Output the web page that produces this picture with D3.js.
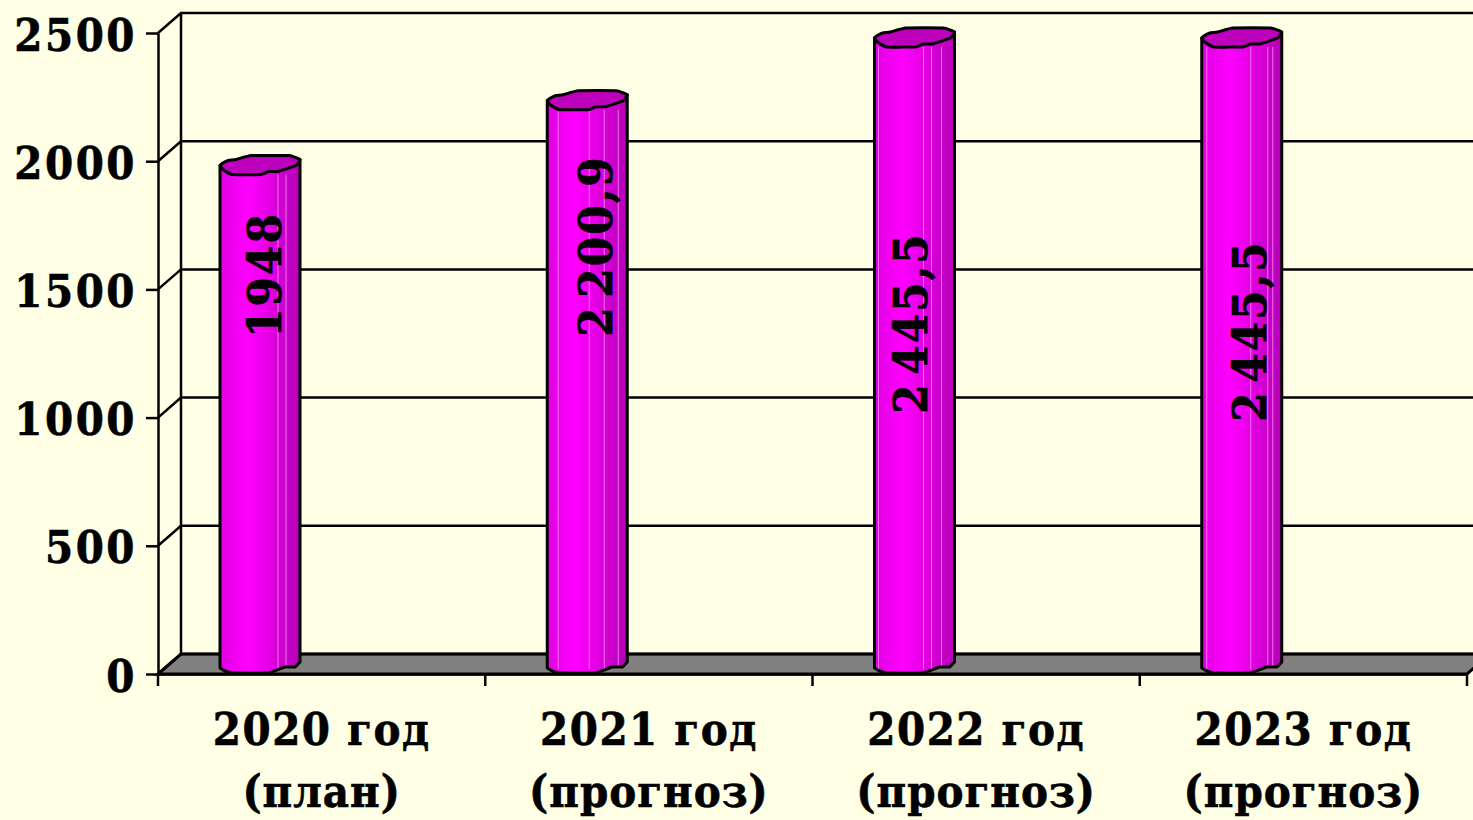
<!DOCTYPE html>
<html>
<head>
<meta charset="utf-8">
<script src="https://cdnjs.cloudflare.com/ajax/libs/d3/7.8.5/d3.min.js"></script>
<style>
body { margin: 0; background: #ffffe5; overflow: hidden; }
text { font-family: "DejaVu Serif Condensed", "DejaVu Serif", serif; font-weight: bold; fill: #000; stroke: #000; stroke-width: 0.6px; }
</style>
</head>
<body>
<script>
// Data //////////////////////////////////////////////
var years = ["2020 год", "2021 год", "2022 год", "2023 год"];
var notes = ["(план)", "(прогноз)", "(прогноз)", "(прогноз)"];
var values = [1948, 2200.9, 2445.5, 2445.5];
var valueLabels = ["1948", "2 200,9", "2 445,5", "2 445,5"];
var yTicks = [0, 500, 1000, 1500, 2000, 2500];

// Layout //////////////////////////////////////////////
var width = 1473, height = 820;
var left = 158, right = 1467, bottom = 674, top_ = 33;
var depthX = 23, depthY = -20;
var barOffset = 62;
var fontSize = 45;

// hand placed data labels, as in the original slide: dx from bar left, centre y
var labelPlace = [[45, 275], [48, 246], [36, 323], [48, 331]];

// lighter facet lines on each cylinder, dx from bar left
var facets = [[58, 66], [11, 42, 57, 71], [4, 49, 57, 67], [5, 49, 66, 71]];

// outline of the top and bottom of the cylinder, relative to bar left / value y
var topShape = [[0, -9], [3, -5], [12, 0], [41, 0], [49, -3], [58, -3], [76, -9], [80, -15],
	[69, -19], [31, -19], [16, -15], [8, -14], [2, -11]];
var baseShape = [[0, -6], [5, -3], [12, -1], [48, -1], [65, -7], [75, -7], [80, -12]];

var svg = d3.select("body").append("svg")
	.attr("width", width)
	.attr("height", height);

var xScale = d3.scaleBand().domain(years).range([left, right]);
var yScale = d3.scaleLinear().domain([0, 2500]).range([bottom, top_]);

// bar gradient
var grad = svg.append("defs").append("linearGradient").attr("id", "barFill");
grad.append("stop").attr("offset", "0%").attr("stop-color", "#e000e0");
grad.append("stop").attr("offset", "35%").attr("stop-color", "#ff00ff");
grad.append("stop").attr("offset", "60%").attr("stop-color", "#e600e6");
grad.append("stop").attr("offset", "100%").attr("stop-color", "#b400b4");

// floor
svg.append("path")
	.attr("d", "M" + left + "," + bottom + "L" + (left + depthX) + "," + (bottom + depthY) +
		"L" + (right + depthX) + "," + (bottom + depthY) + "L" + right + "," + bottom + "Z")
	.attr("fill", "#808080")
	.attr("stroke", "#000")
	.attr("stroke-width", 3);

// back wall gridlines and side wall diagonals
svg.append("g").selectAll("path")
	.data(yTicks)
	.enter().append("path")
	.attr("d", function(d) {
		var y = yScale(d);
		return "M" + left + "," + y + "L" + (left + depthX) + "," + (y + depthY) + "L" + (right + depthX) + "," + (y + depthY);
	})
	.attr("fill", "none")
	.attr("stroke", "#000")
	.attr("stroke-width", 2.5);

svg.append("line")
	.attr("x1", left + depthX).attr("x2", left + depthX)
	.attr("y1", yScale(0) + depthY).attr("y2", yScale(2500) + depthY)
	.attr("stroke", "#000")
	.attr("stroke-width", 2.5);

// axes
var yAxis = d3.axisLeft(yScale)
	.tickValues(yTicks)
	.tickFormat(d3.format("d"))
	.tickSize(12)
	.tickPadding(9)
	.tickSizeOuter(0);
var yG = svg.append("g")
	.attr("transform", "translate(" + left + ",0)")
	.call(yAxis);

var xAxis = d3.axisBottom(xScale).tickSize(0).tickFormat("");
var xG = svg.append("g")
	.attr("transform", "translate(0," + bottom + ")")
	.call(xAxis);

svg.selectAll(".domain").attr("stroke", "#000").attr("stroke-width", 2.5);
svg.selectAll(".tick line").attr("stroke", "#000").attr("stroke-width", 2.5);
yG.selectAll("text")
	.attr("dy", "0.38em")
	.style("font-size", fontSize + "px")
	.style("letter-spacing", "2.5px")
	.attr("fill", "#000");

// x tick marks at the band edges
svg.append("g").selectAll("line")
	.data(years)
	.enter().append("line")
	.attr("x1", function(d) { return xScale(d) + xScale.bandwidth(); })
	.attr("x2", function(d) { return xScale(d) + xScale.bandwidth(); })
	.attr("y1", bottom)
	.attr("y2", bottom + 12)
	.attr("stroke", "#000")
	.attr("stroke-width", 2.5);
svg.append("line")
	.attr("x1", left).attr("x2", left)
	.attr("y1", bottom).attr("y2", bottom + 12)
	.attr("stroke", "#000")
	.attr("stroke-width", 2.5);

// category labels
years.forEach(function(d, i) {
	var cx = xScale(d) + xScale.bandwidth() / 2;
	svg.append("text").attr("x", cx).attr("y", 745)
		.attr("text-anchor", "middle")
		.style("font-size", fontSize + "px")
		.style("letter-spacing", "1.5px")
		.text(d);
	svg.append("text").attr("x", cx).attr("y", 807)
		.attr("text-anchor", "middle")
		.style("font-size", fontSize + "px")
		.style("letter-spacing", "1px")
		.text(notes[i]);
});

// Bars ////////////////////////////////////////////////
function relative(points, x, y) {
	return points.map(function(p) { return [x + p[0], y + p[1]]; });
}

var smooth = d3.line().curve(d3.curveCardinal.tension(0.7));
var smoothClosed = d3.line().curve(d3.curveCardinalClosed.tension(0.7));

function barBody(x, yTop) {
	var base = smooth(relative(baseShape, x, yScale(0)));
	return "M" + x + "," + (yTop - 9) + "L" + base.slice(1) + "L" + (x + 80) + "," + (yTop - 15) + "Z";
}

var bars = svg.append("g").selectAll("g")
	.data(values)
	.enter().append("g");

bars.append("path")
	.attr("d", function(d, i) { return barBody(xScale(years[i]) + barOffset, yScale(d)); })
	.attr("fill", "url(#barFill)");

bars.each(function(d, i) {
	d3.select(this).selectAll("line")
		.data(facets[i])
		.enter().append("line")
		.attr("x1", function(fx) { return xScale(years[i]) + barOffset + fx; })
		.attr("x2", function(fx) { return xScale(years[i]) + barOffset + fx; })
		.attr("y1", yScale(d))
		.attr("y2", bottom - 5)
		.attr("stroke", "#f070f0")
		.attr("stroke-width", 1);
});

bars.append("path")
	.attr("d", function(d, i) { return barBody(xScale(years[i]) + barOffset, yScale(d)); })
	.attr("fill", "none")
	.attr("stroke", "#000")
	.attr("stroke-width", 3)
	.attr("stroke-linejoin", "round");

bars.append("path")
	.attr("d", function(d, i) { return smoothClosed(relative(topShape, xScale(years[i]) + barOffset, yScale(d))); })
	.attr("fill", "#bc00bc")
	.attr("stroke", "#000")
	.attr("stroke-width", 3)
	.attr("stroke-linejoin", "round");

// data labels
bars.append("text")
	.attr("transform", function(d, i) {
		var x = xScale(years[i]) + barOffset + labelPlace[i][0];
		return "translate(" + x + "," + labelPlace[i][1] + ") rotate(-90)";
	})
	.attr("text-anchor", "middle")
	.attr("dy", "0.35em")
	.style("font-size", "47px")
	.style("letter-spacing", "2px")
	.style("word-spacing", "-9px")
	.text(function(d, i) { return valueLabels[i]; });
</script>
</body>
</html>
